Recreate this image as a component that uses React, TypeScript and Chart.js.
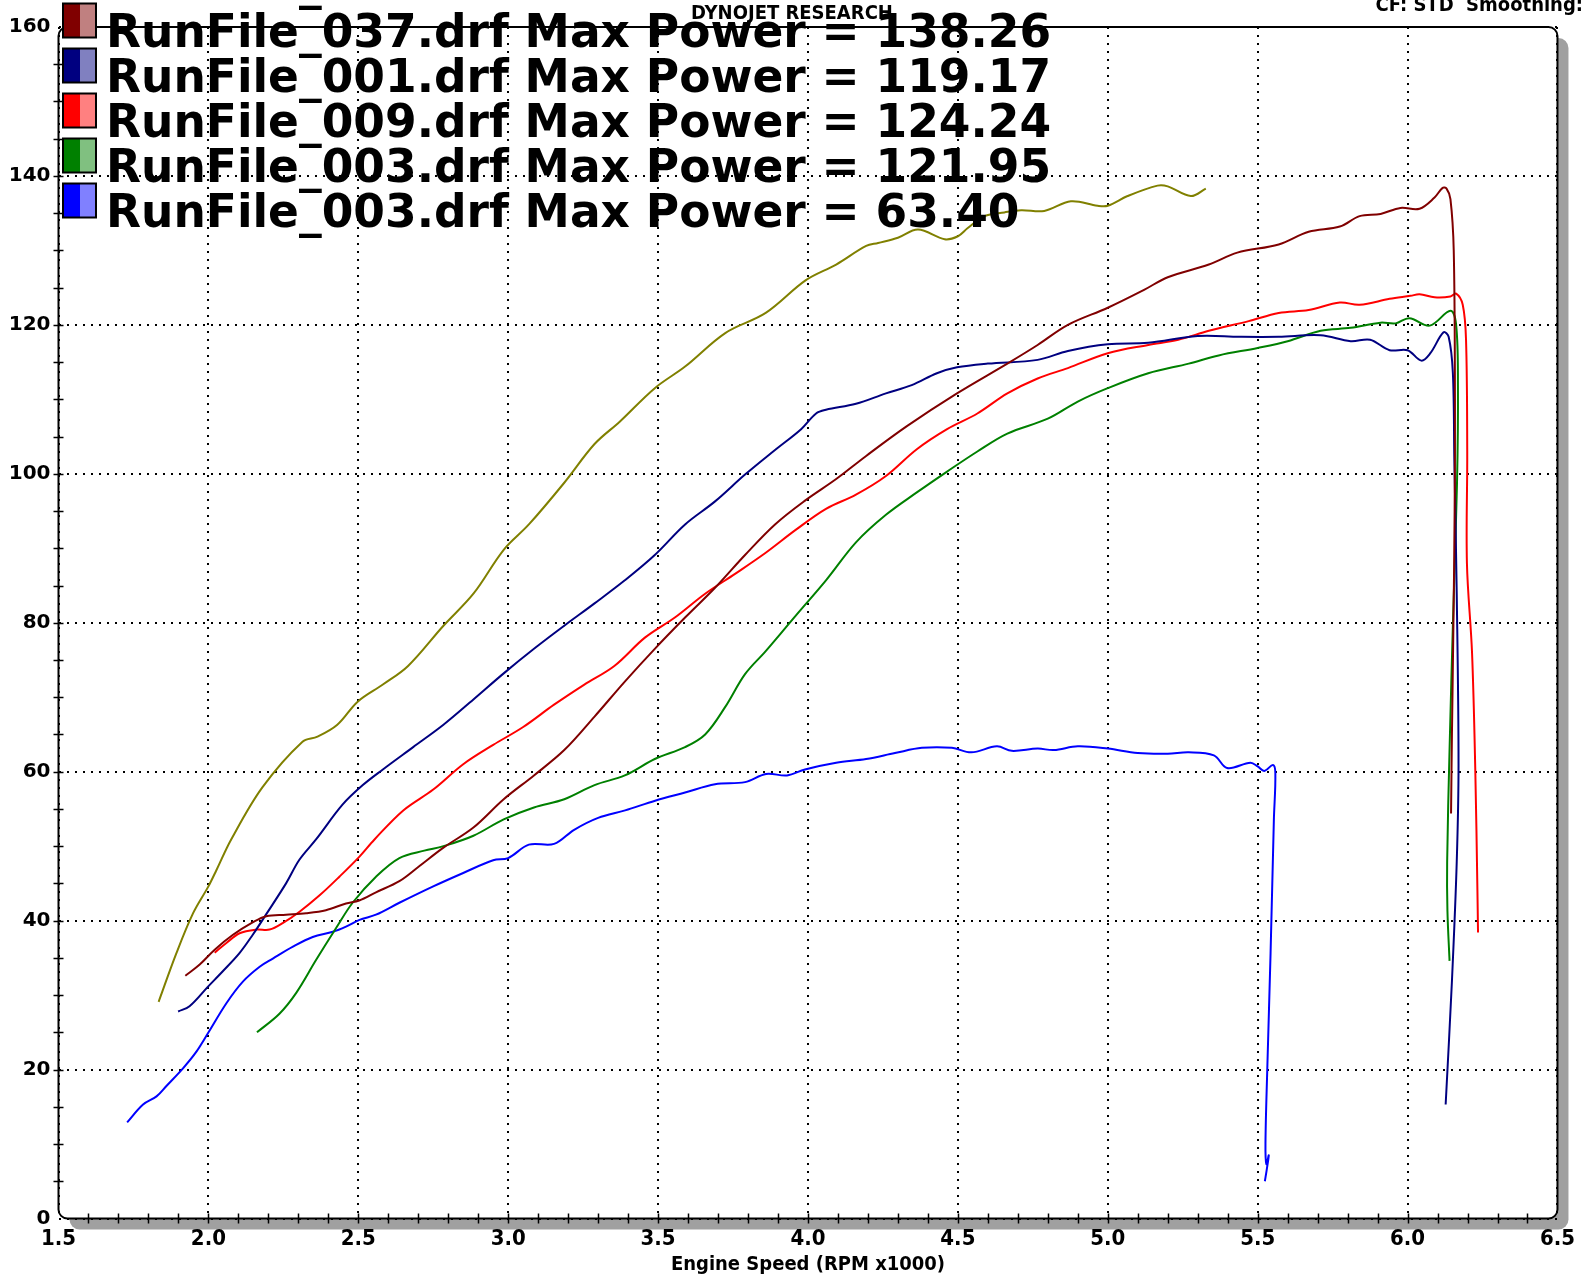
import React, { useEffect, useRef } from 'react';
import { Chart, registerables } from 'chart.js';

Chart.register(...registerables);

const W = 1583;
const H = 1279;

// ---- Data (RPM x1000, Power) ----
const rpmOlive = [1.834, 1.893, 1.949, 2.0, 2.027, 2.076, 2.18, 2.313, 2.364, 2.43, 2.498, 2.582, 2.666, 2.784, 2.884, 2.985, 3.069, 3.187, 3.288, 3.372, 3.489, 3.59, 3.724, 3.859, 3.993, 4.094, 4.194, 4.234, 4.3, 4.367, 4.456, 4.5, 4.533, 4.589, 4.655, 4.711, 4.788, 4.877, 4.966, 5.0, 5.066, 5.166, 5.2, 5.277, 5.327];
const hpOlive = [29.1, 35.6, 41.0, 44.6, 46.8, 50.9, 57.9, 64.0, 64.7, 66.3, 69.4, 71.7, 74.2, 79.6, 83.9, 89.8, 93.2, 98.8, 104.0, 107.0, 111.5, 114.4, 118.9, 121.6, 126.0, 128.1, 130.6, 131.0, 131.7, 132.8, 131.5, 131.9, 133.0, 134.6, 135.1, 135.4, 135.3, 136.6, 136.0, 136.0, 137.3, 138.7, 138.6, 137.3, 138.3];

const rpm037 = [1.923, 1.971, 2.021, 2.082, 2.149, 2.193, 2.259, 2.326, 2.392, 2.459, 2.503, 2.559, 2.637, 2.7, 2.784, 2.884, 2.985, 3.086, 3.187, 3.288, 3.389, 3.489, 3.59, 3.69, 3.79, 3.89, 3.99, 4.094, 4.194, 4.33, 4.497, 4.665, 4.766, 4.867, 5.0, 5.121, 5.2, 5.337, 5.432, 5.57, 5.67, 5.774, 5.84, 5.91, 5.976, 6.04, 6.09, 6.117, 6.13, 6.143, 6.154, 6.158, 6.157, 6.153, 6.148, 6.145];
const hp037 = [32.6, 34.1, 36.1, 38.1, 39.8, 40.6, 40.8, 41.0, 41.4, 42.3, 42.7, 43.8, 45.3, 47.2, 49.8, 52.5, 56.3, 59.5, 62.9, 67.4, 72.1, 76.5, 80.7, 84.7, 89.1, 93.2, 96.4, 99.3, 102.4, 106.4, 110.8, 114.8, 117.3, 120.0, 122.3, 124.7, 126.4, 128.1, 129.7, 130.8, 132.5, 133.2, 134.6, 134.9, 135.7, 135.6, 137.1, 138.4, 138.3, 136.9, 130.0, 110.0, 95.0, 80.0, 65.0, 54.4];

const rpm001 = [1.899, 1.937, 1.998, 2.048, 2.103, 2.148, 2.192, 2.259, 2.304, 2.359, 2.448, 2.515, 2.582, 2.683, 2.784, 2.884, 2.985, 3.086, 3.187, 3.288, 3.389, 3.489, 3.59, 3.69, 3.79, 3.89, 3.977, 4.027, 4.06, 4.16, 4.26, 4.346, 4.43, 4.497, 4.6, 4.766, 4.867, 5.0, 5.135, 5.3, 5.44, 5.57, 5.71, 5.81, 5.875, 5.94, 6.0, 6.046, 6.076, 6.12, 6.137, 6.151, 6.156, 6.164, 6.17, 6.164, 6.148, 6.127];
const hp001 = [27.8, 28.5, 31.1, 33.2, 35.6, 38.1, 40.8, 45.0, 48.2, 50.9, 55.6, 58.2, 60.3, 63.3, 66.3, 69.7, 73.2, 76.5, 79.6, 82.6, 85.7, 89.1, 93.2, 96.3, 99.9, 103.2, 106.0, 108.1, 108.6, 109.4, 110.8, 111.9, 113.5, 114.3, 114.8, 115.3, 116.5, 117.4, 117.6, 118.5, 118.4, 118.4, 118.6, 117.8, 118.0, 116.6, 116.6, 115.2, 116.2, 119.0, 118.4, 113.6, 101.9, 83.9, 61.0, 47.9, 31.9, 15.3];

const rpm009 = [2.021, 2.06, 2.104, 2.16, 2.204, 2.249, 2.304, 2.371, 2.437, 2.504, 2.554, 2.65, 2.75, 2.85, 2.95, 3.05, 3.153, 3.254, 3.354, 3.456, 3.556, 3.657, 3.758, 3.859, 3.96, 4.06, 4.16, 4.26, 4.363, 4.464, 4.565, 4.665, 4.766, 4.867, 5.0, 5.135, 5.235, 5.337, 5.47, 5.57, 5.67, 5.774, 5.84, 5.94, 6.01, 6.04, 6.09, 6.143, 6.162, 6.184, 6.195, 6.199, 6.198, 6.215, 6.226, 6.233, 6.235];
const hp009 = [35.7, 37.0, 38.3, 38.8, 38.8, 39.7, 41.2, 43.4, 45.9, 48.6, 50.9, 54.8, 57.6, 61.0, 63.6, 66.0, 69.0, 71.7, 74.2, 78.0, 80.7, 83.9, 86.6, 89.4, 92.5, 95.3, 97.2, 99.7, 103.3, 106.0, 108.1, 110.8, 112.8, 114.2, 116.2, 117.3, 118.0, 119.2, 120.5, 121.6, 122.0, 123.0, 122.7, 123.5, 123.9, 124.1, 123.7, 123.8, 124.2, 122.7, 118.0, 103.0, 88.0, 76.0, 60.0, 44.0, 38.4];

const rpm003a = [2.162, 2.237, 2.293, 2.359, 2.426, 2.481, 2.559, 2.637, 2.72, 2.784, 2.884, 2.985, 3.086, 3.187, 3.288, 3.389, 3.489, 3.59, 3.657, 3.724, 3.79, 3.859, 3.96, 4.06, 4.16, 4.26, 4.363, 4.464, 4.565, 4.665, 4.8, 4.9, 5.0, 5.135, 5.27, 5.37, 5.5, 5.6, 5.71, 5.81, 5.91, 5.96, 6.006, 6.074, 6.143, 6.162, 6.168, 6.165, 6.152, 6.14, 6.132, 6.133, 6.14];
const hp003a = [25.0, 27.5, 30.3, 34.7, 39.0, 42.4, 45.9, 48.4, 49.4, 50.0, 51.4, 53.6, 55.2, 56.3, 58.2, 59.5, 61.7, 63.3, 65.0, 68.7, 73.1, 76.2, 81.0, 85.7, 90.8, 94.5, 97.5, 100.3, 103.0, 105.4, 107.4, 109.7, 111.5, 113.5, 114.8, 115.9, 116.9, 117.8, 119.2, 119.6, 120.3, 120.2, 120.9, 119.9, 121.9, 120.0, 111.8, 98.9, 80.9, 62.9, 47.9, 41.3, 34.6];

const rpm003b = [1.729, 1.782, 1.827, 1.86, 1.916, 1.96, 1.999, 2.06, 2.115, 2.171, 2.215, 2.282, 2.348, 2.415, 2.459, 2.504, 2.559, 2.637, 2.75, 2.85, 2.95, 3.0, 3.069, 3.153, 3.22, 3.3, 3.39, 3.49, 3.59, 3.69, 3.79, 3.86, 3.93, 3.99, 4.094, 4.194, 4.29, 4.38, 4.48, 4.545, 4.63, 4.68, 4.766, 4.82, 4.9, 5.0, 5.1, 5.2, 5.27, 5.354, 5.398, 5.476, 5.5, 5.522, 5.551, 5.559, 5.554, 5.543, 5.532, 5.526, 5.529, 5.537, 5.53, 5.524];
const hp003b = [12.9, 15.3, 16.4, 17.8, 20.2, 22.4, 24.9, 28.9, 31.8, 33.8, 34.9, 36.5, 37.8, 38.5, 39.2, 40.1, 40.8, 42.4, 44.6, 46.4, 48.1, 48.4, 50.2, 50.3, 52.2, 53.8, 54.8, 56.1, 57.2, 58.3, 58.6, 59.7, 59.5, 60.3, 61.2, 61.7, 62.5, 63.2, 63.2, 62.6, 63.4, 62.8, 63.1, 62.9, 63.4, 63.1, 62.5, 62.4, 62.6, 62.2, 60.5, 61.2, 60.7, 60.1, 60.9, 59.8, 53.5, 35.6, 20.0, 10.1, 7.3, 8.5, 6.5, 5.0];

const seriesLabels = [
  'RunFile_045.drf Max Power = 138.71',
  'RunFile_037.drf Max Power = 138.26',
  'RunFile_001.drf Max Power = 119.17',
  'RunFile_009.drf Max Power = 124.24',
  'RunFile_003.drf Max Power = 121.95',
  'RunFile_003.drf Max Power = 63.40',
];
const seriesColors = ['#808000', '#800000', '#000080', '#ff0000', '#008000', '#0000ff'];
const seriesRpm = [rpmOlive, rpm037, rpm001, rpm009, rpm003a, rpm003b];
const seriesHp = [hpOlive, hp037, hp001, hp009, hp003a, hp003b];

const xMin = 1.5;
const xMax = 6.5;
const xStep = 0.1;
const yMin = 0;
const yMax = 160;
const yStep = 5;
const yMajor = 20;

const headerTitle = 'DYNOJET RESEARCH';
const headerRight = 'CF: STD  Smoothing:';
const xTitle = 'Engine Speed (RPM x1000)';

const condensed = "'DejaVu Sans Condensed', 'Liberation Sans Narrow', 'Roboto Condensed', Roboto, sans-serif";
const verdana = "'DejaVu Sans', Verdana, sans-serif";

const isMajorX = (v: number) => Math.abs(v * 2 - Math.round(v * 2)) < 1e-6;
const isMajorY = (v: number) => Math.abs(v / yMajor - Math.round(v / yMajor)) < 1e-6;

function lighten(hex: string) {
  const r = parseInt(hex.slice(1, 3), 16);
  const g = parseInt(hex.slice(3, 5), 16);
  const b = parseInt(hex.slice(5, 7), 16);
  const m = (c: number) => Math.round(c + (255 - c) * 0.5);
  return `rgb(${m(r)},${m(g)},${m(b)})`;
}

const dynoPlugin = {
  id: 'dynoFrame',
  beforeDraw(chart: any) {
    const { ctx, chartArea: a } = chart;
    const w = a.right - a.left;
    const h = a.bottom - a.top;
    ctx.save();
    ctx.fillStyle = '#ffffff';
    ctx.fillRect(0, 0, chart.width, chart.height);
    ctx.fillStyle = '#a0a0a0';
    ctx.beginPath();
    ctx.roundRect(a.left + 11, a.top + 11, w, h, 10);
    ctx.fill();
    ctx.fillStyle = '#ffffff';
    ctx.beginPath();
    ctx.roundRect(a.left, a.top, w, h, 9);
    ctx.fill();
    ctx.restore();
  },
  afterDatasetsDraw(chart: any) {
    const { ctx, chartArea: a, scales } = chart;
    const w = a.right - a.left;
    const h = a.bottom - a.top;
    ctx.save();
    // frame
    ctx.strokeStyle = '#000';
    ctx.lineWidth = 2;
    ctx.beginPath();
    ctx.roundRect(a.left, a.top, w, h, 9);
    ctx.stroke();
    // tick marks crossing the axes
    ctx.lineWidth = 1.5;
    ctx.beginPath();
    scales.x.ticks.forEach((t: any) => {
      const px = Math.round(scales.x.getPixelForValue(t.value)) + 0.5;
      if (px < a.left + 6 || px > a.right - 6) return;
      ctx.moveTo(px, a.bottom - 5);
      ctx.lineTo(px, a.bottom + 5);
    });
    scales.y.ticks.forEach((t: any) => {
      const py = Math.round(scales.y.getPixelForValue(t.value)) + 0.5;
      if (py < a.top + 6 || py > a.bottom - 6) return;
      ctx.moveTo(a.left - 5, py);
      ctx.lineTo(a.left + 5, py);
    });
    ctx.stroke();
    // header texts
    ctx.fillStyle = '#000';
    ctx.font = `bold 20px ${condensed}`;
    ctx.textBaseline = 'alphabetic';
    ctx.textAlign = 'center';
    ctx.fillText(headerTitle, 792, 19);
    ctx.textAlign = 'right';
    ctx.fillText(headerRight, 1583, 11);
    // legend (first row sits above the page edge)
    ctx.textAlign = 'left';
    ctx.font = `bold 45.5px ${verdana}`;
    chart.data.datasets.forEach((ds: any, i: number) => {
      const base = i === 0 ? -1 : 46.5 + (i - 1) * 45;
      const top = base - 43;
      const col = ds.borderColor as string;
      ctx.fillStyle = col;
      ctx.fillRect(63, top, 17, 34);
      ctx.fillStyle = lighten(col);
      ctx.fillRect(80, top, 16, 34);
      ctx.strokeStyle = '#000';
      ctx.lineWidth = 2;
      ctx.strokeRect(63, top, 33, 34);
      ctx.fillStyle = '#000';
      ctx.fillText(ds.label, 106, base);
    });
    ctx.restore();
  },
};

export default function App() {
  const canvasRef = useRef<HTMLCanvasElement | null>(null);

  useEffect(() => {
    const canvas = canvasRef.current;
    if (!canvas) return;
    const datasets = seriesLabels.map((label, i) => ({
      label,
      data: seriesRpm[i].map((x, k) => ({ x, y: seriesHp[i][k] })),
      borderColor: seriesColors[i],
      backgroundColor: seriesColors[i],
      borderWidth: 2,
      pointRadius: 0,
      fill: false,
      tension: 0.35,
    }));
    const chart = new Chart(canvas, {
      type: 'line',
      data: { datasets },
      plugins: [dynoPlugin],
      options: {
        responsive: false,
        animation: false,
        devicePixelRatio: 1,
        layout: { padding: { left: 0, top: 27, right: 22, bottom: 0 } },
        plugins: {
          legend: { display: false },
          tooltip: { enabled: false },
          title: { display: false },
        },
        scales: {
          x: {
            type: 'linear',
            min: xMin,
            max: xMax,
            afterFit: (s: any) => {
              s.height = 60.5;
            },
            ticks: {
              stepSize: xStep,
              autoSkip: false,
              maxRotation: 0,
              minRotation: 0,
              padding: 8,
              color: '#000',
              font: { family: condensed, size: 22, weight: 'bold' },
              callback: (v: any) => (isMajorX(Number(v)) ? Number(v).toFixed(1) : ''),
            },
            grid: {
              drawTicks: false,
              lineWidth: 2,
              color: (c: any) => (c.tick && isMajorX(c.tick.value) ? '#000' : 'rgba(0,0,0,0)'),
            },
            border: { display: false, dash: [2, 6] },
            title: {
              display: true,
              text: xTitle,
              color: '#000',
              font: { family: condensed, size: 20, weight: 'bold' },
              padding: { top: 0, bottom: 2 },
            },
          },
          y: {
            type: 'linear',
            min: yMin,
            max: yMax,
            afterFit: (s: any) => {
              s.width = 58.5;
            },
            ticks: {
              stepSize: yStep,
              autoSkip: false,
              padding: 8,
              color: '#000',
              font: { family: verdana, size: 20, weight: 'bold' },
              callback: (v: any) => (isMajorY(Number(v)) ? String(Math.round(Number(v))) : ''),
            },
            grid: {
              drawTicks: false,
              lineWidth: 2,
              color: (c: any) => (c.tick && isMajorY(c.tick.value) ? '#000' : 'rgba(0,0,0,0)'),
            },
            border: { display: false, dash: [2, 6] },
          },
        },
      } as any,
    });
    return () => chart.destroy();
  }, []);

  return (
    <div style={{ position: 'absolute', left: 0, top: 0, width: W, height: H, background: '#fff' }}>
      <canvas ref={canvasRef} width={W} height={H} style={{ width: W, height: H, display: 'block' }} />
    </div>
  );
}
